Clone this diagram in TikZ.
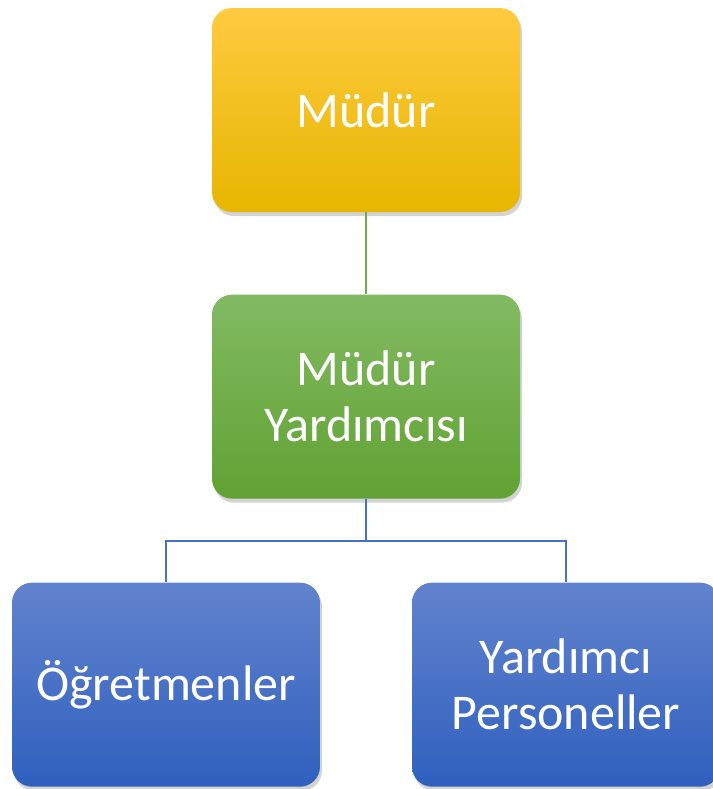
\documentclass[tikz,border=0pt]{standalone}
\usepackage{fontspec}
\setmainfont{Carlito}
\usetikzlibrary{positioning,shadows}

\definecolor{boxyellowtop}{RGB}{255,202,64}
\definecolor{boxyellowmid}{RGB}{255,192,0}
\definecolor{boxyellowbot}{RGB}{230,182,0}
\definecolor{boxgreentop}{RGB}{130,186,98}
\definecolor{boxgreenbot}{RGB}{97,162,51}
\definecolor{boxbluetop}{RGB}{98,131,206}
\definecolor{boxbluebot}{RGB}{47,96,190}
\definecolor{linegreen}{RGB}{112,173,71}
\definecolor{lineblue}{RGB}{68,114,196}

\begin{document}
\begin{tikzpicture}[node distance = 215pt, on grid,
  unit/.style = {rectangle, rounded corners = 15pt, minimum width = 231pt,
    minimum height = 153pt, inner sep = 0pt, align = center, text = white,
    font = \fontsize{37.5}{42}\selectfont,
    drop shadow = {opacity = 0.35, shadow xshift = 1.5pt, shadow yshift = -3pt}},
  head/.style = {unit, top color = boxyellowtop, middle color = boxyellowmid, bottom color = boxyellowbot},
  deputy/.style = {unit, top color = boxgreentop, bottom color = boxgreenbot},
  staff/.style = {unit, top color = boxbluetop, bottom color = boxbluebot}]
\useasboundingbox (0,0) rectangle (534.75pt,-591.75pt);
\node [head] (mudur) at (274.5pt,-82.5pt) {Müdür};
\node [deputy] (yardimci) [below = of mudur] {Müdür\\Yardımcısı};
\node [staff] (ogretmen) [below left = 216pt and 150pt of yardimci] {Öğretmenler};
\node [staff] (personel) [below right = 216pt and 150pt of yardimci] {Yardımcı\\Personeller};
\begin{scope}[on background layer/.try]
\draw [linegreen, line width = 1.3pt] (mudur) -- (yardimci);
\draw [lineblue, line width = 1.3pt] (yardimci.south) -- ++(0,-31.5pt) -| (ogretmen.north);
\draw [lineblue, line width = 1.3pt] (yardimci.south) -- ++(0,-31.5pt) -| (personel.north);
\end{scope}
\end{tikzpicture}
\end{document}
